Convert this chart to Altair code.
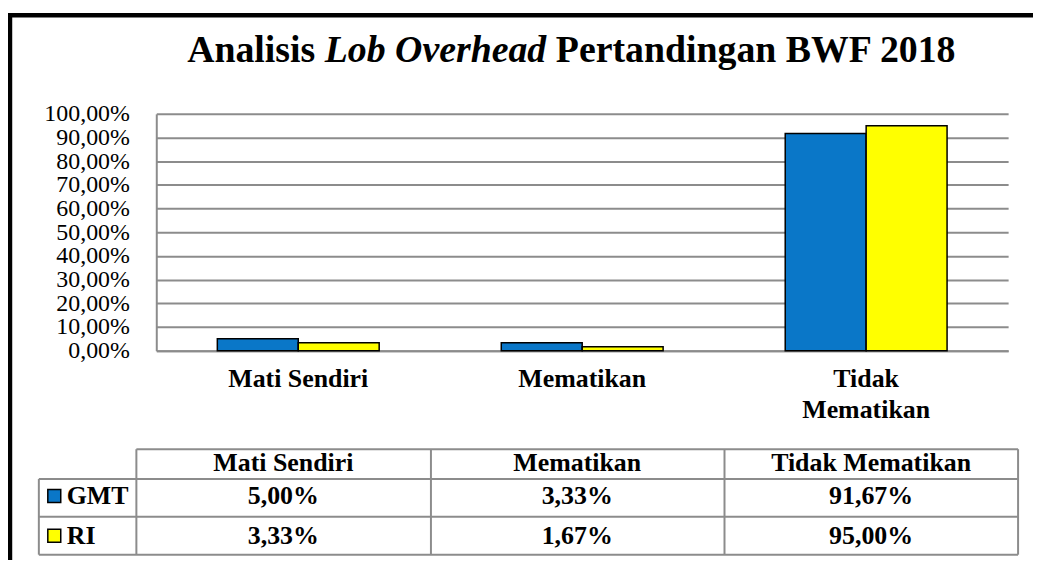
import altair as alt
import pandas as pd

categories = ["Mati Sendiri", "Mematikan", "Tidak Mematikan"]
series = ["GMT", "RI"]
gmt_values = [0.05, 0.0333, 0.9167]
ri_values = [0.0333, 0.0167, 0.95]
colors = ["#0A77C8", "#FFFF00"]
y_ticks = [0.0, 0.1, 0.2, 0.3, 0.4, 0.5, 0.6, 0.7, 0.8, 0.9, 1.0]
title_parts = ["Analisis", "Lob Overhead", "Pertandingan BWF 2018"]

rows = []
for s, vals in zip(series, [gmt_values, ri_values]):
    for c, v in zip(categories, vals):
        rows.append({"category": c, "series": s, "value": v})
df = pd.DataFrame(rows)
one = pd.DataFrame({"k": [0]})

W, H = 856, 238
FONT = "'Liberation Serif', 'Times New Roman', Times, 'DejaVu Serif', serif"
GRID = "#8C8C8C"
PCT = "replace(format(datum.value, '.2%'), '.', ',')"

x_enc = alt.X(
    "category:N", sort=categories,
    scale=alt.Scale(paddingInner=0.43, paddingOuter=0.215),
    axis=alt.Axis(title=None, labelAngle=0, labelFont=FONT, labelFontSize=26,
                  labelFontWeight="bold", labelColor="black", labelPadding=15,
                  labelLineHeight=31, ticks=False, domainColor=GRID, domainWidth=2,
                  grid=False, labelOverlap=False,
                  labelExpr="datum.value == 'Tidak Mematikan' ? ['Tidak', 'Mematikan'] : datum.value"),
)
y_enc = alt.Y(
    "value:Q", scale=alt.Scale(domain=[0, 1], nice=False),
    axis=alt.Axis(values=y_ticks, title=None, labelExpr=PCT, labelFont=FONT,
                  labelFontSize=24, labelColor="black", labelPadding=27, ticks=False,
                  labelOverlap=False, labelBound=False,
                  domainColor=GRID, domainWidth=2, gridColor=GRID, gridWidth=2),
)

bars = alt.Chart(df).mark_bar(stroke="black", strokeWidth=1.5).encode(
    x=x_enc,
    xOffset=alt.XOffset("series:N", sort=series, scale=alt.Scale(paddingInner=0, paddingOuter=0)),
    y=y_enc,
    color=alt.Color("series:N", scale=alt.Scale(domain=series, range=colors), legend=None),
)

tx = alt.X("category:N", sort=categories,
           scale=alt.Scale(range=[-20, 866], paddingInner=0, paddingOuter=0), axis=None)


def cell_layer(data, field, yv):
    return alt.Chart(data).mark_text(font=FONT, fontSize=26, fontWeight="bold",
                                     color="black", baseline="middle").encode(
        x=tx, y=alt.value(yv), text=f"{field}:N")


header = cell_layer(df[df.series == series[0]], "category", 351)
gmt_row = cell_layer(df[df.series == series[0]], "label", 384).transform_calculate(
    label="replace(format(datum.value, '.2%'), '.', ',')")
ri_row = cell_layer(df[df.series == series[1]], "label", 424).transform_calculate(
    label="replace(format(datum.value, '.2%'), '.', ',')")


def rule(x1, x2, y1, y2, color=GRID, w=2):
    return alt.Chart(one).mark_rule(color=color, strokeWidth=w).encode(
        x=alt.value(x1), x2=alt.value(x2), y=alt.value(y1), y2=alt.value(y2))


lines = [
    rule(-118, -118, 367, 443), rule(-20, -20, 337, 443), rule(276, 276, 337, 443),
    rule(571, 571, 337, 443), rule(866, 866, 337, 443),
    rule(-20, 866, 337, 337), rule(-118, 866, 367, 367), rule(-118, 866, 405, 405),
    rule(-118, 866, 443, 443),
]

frame = [rule(-147, -147, -101, 450, "black", 4.5), rule(-149, 890, -99, -99, "black", 4.5)]

row_labels = []
for s, c, yv in zip(series, colors, [384, 424]):
    row_labels.append(alt.Chart(one).mark_rect(color=c, stroke="black", strokeWidth=1.5).encode(
        x=alt.value(-109), x2=alt.value(-96), y=alt.value(yv - 6.5), y2=alt.value(yv + 6.5)))
    row_labels.append(alt.Chart(one).mark_text(font=FONT, fontSize=26, fontWeight="bold",
                                               color="black", align="left", baseline="middle").encode(
        x=alt.value(-90), y=alt.value(yv), text=alt.value(s)))

title_x = [31, 169.3, 401.5]
title_layers = []
for t, xv, st in zip(title_parts, title_x, ["normal", "italic", "normal"]):
    title_layers.append(alt.Chart(one).mark_text(font=FONT, fontSize=38, fontWeight="bold",
                                                 fontStyle=st, color="black", align="left",
                                                 baseline="alphabetic").encode(
        x=alt.value(xv), y=alt.value(-52), text=alt.value(t)))

chart = alt.layer(
    bars, header, gmt_row, ri_row, *lines, *frame, *row_labels, *title_layers
).resolve_scale(x="independent").properties(
    width=W, height=H,
    autosize=alt.AutoSizeParams(type="none"),
    padding={"left": 149, "top": 105, "right": 25, "bottom": 209},
    background="white",
).configure_view(stroke=None)

chart.save("out.html", embed_options={"renderer": "svg", "actions": False})
